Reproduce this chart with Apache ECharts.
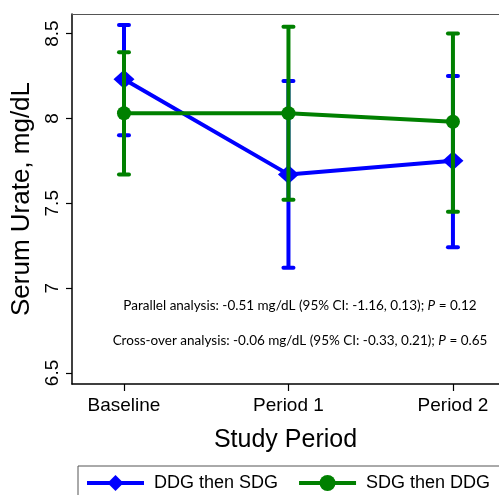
<!DOCTYPE html>
<html>
<head>
<meta charset="utf-8">
<script src="https://cdn.jsdelivr.net/npm/echarts@6/dist/echarts.min.js"></script>
<style>html,body{margin:0;padding:0;background:#fff}#c{width:499px;height:495px}</style>
</head>
<body>
<div id="c"></div>
<script>
var categories = ['Baseline', 'Period 1', 'Period 2'];
var yTicks = [6.5, 7, 7.5, 8, 8.5];
var ddgMean = [8.23, 7.67, 7.75];
var ddgLower = [7.90, 7.12, 7.24];
var ddgUpper = [8.55, 8.22, 8.25];
var sdgMean = [8.03, 8.03, 7.98];
var sdgLower = [7.67, 7.52, 7.45];
var sdgUpper = [8.39, 8.54, 8.50];
var seriesNames = ['DDG then SDG', 'SDG then DDG'];
var notes = [
  ['Parallel analysis: -0.51 mg/dL (95% CI: -1.16, 0.13); ', 'P', ' = 0.12'],
  ['Cross-over analysis: -0.06 mg/dL (95% CI: -0.33, 0.21); ', 'P', ' = 0.65']
];

var BLUE = '#0000ff', GREEN = '#008000';
var FONT = '"Liberation Sans", Arial, sans-serif';
var NFONT = 'Lato, "Open Sans", sans-serif';

function errData(lo, hi) {
  return lo.map(function (v, i) { return [i, v, hi[i]]; });
}
function errSeries(lo, hi, color, z) {
  return {
    type: 'custom', z: z, silent: true,
    data: errData(lo, hi),
    renderItem: function (params, api) {
      var x = api.value(0);
      var p1 = api.coord([x, api.value(1)]);
      var p2 = api.coord([x, api.value(2)]);
      var hw = 5;
      var st = { stroke: color, lineWidth: 4, lineCap: 'round' };
      return {
        type: 'group',
        children: [
          { type: 'line', shape: { x1: p1[0], y1: p1[1], x2: p2[0], y2: p2[1] }, style: { stroke: color, lineWidth: 4 } },
          { type: 'line', shape: { x1: p1[0] - hw, y1: p1[1], x2: p1[0] + hw, y2: p1[1] }, style: st },
          { type: 'line', shape: { x1: p2[0] - hw, y1: p2[1], x2: p2[0] + hw, y2: p2[1] }, style: st }
        ]
      };
    }
  };
}
function pts(arr) { return arr.map(function (v, i) { return [i, v]; }); }

var chart = echarts.init(document.getElementById('c'));
chart.setOption({
  animation: false,
  backgroundColor: '#fff',
  textStyle: { fontFamily: FONT },
  grid: { left: 72, top: 14, right: 0, bottom: 111, containLabel: false },
  xAxis: [{
    type: 'value', min: -0.316, max: 2.28,
    name: 'Study Period', nameLocation: 'middle', nameGap: 44,
    nameTextStyle: { fontSize: 25, color: '#000', fontFamily: FONT },
    axisLine: { show: true, onZero: false, lineStyle: { color: '#000', width: 1.5 } },
    axisTick: { show: true, length: 7, customValues: [0, 1, 2], lineStyle: { color: '#000', width: 1.2 } },
    axisLabel: { customValues: [0, 1, 2], fontSize: 19, color: '#000', margin: 12, fontFamily: FONT,
      formatter: function (v) { return categories[Math.round(v)]; } },
    splitLine: { show: false }
  }, {
    type: 'value', position: 'top', min: -0.316, max: 2.28,
    axisLine: { show: true, onZero: false, lineStyle: { color: '#555', width: 1.2 } },
    axisTick: { show: false }, axisLabel: { show: false }, splitLine: { show: false }
  }],
  yAxis: {
    type: 'value', min: 6.435, max: 8.615,
    name: 'Serum Urate, mg/dL', nameLocation: 'middle', nameGap: 30, nameRotate: 90,
    nameTextStyle: { fontSize: 26, color: '#000', fontFamily: FONT },
    axisLine: { show: true, onZero: false, lineStyle: { color: '#000', width: 1.5 } },
    axisTick: { show: true, length: 6, customValues: yTicks, lineStyle: { color: '#000', width: 1.2 } },
    axisLabel: { customValues: yTicks, rotate: 90, fontSize: 19, color: '#000', margin: 10, fontFamily: FONT,
      formatter: function (v) { return String(v); } },
    splitLine: { show: false }
  },
  legend: {
    left: 78, top: 466, width: 470,
    padding: [8, 40, 30, 7],
    borderColor: '#555', borderWidth: 1,
    itemWidth: 57, itemHeight: 20, itemGap: 19,
    lineStyle: { width: 4 },
    textStyle: { fontSize: 18, color: '#000', fontFamily: FONT, padding: [0, 0, 0, 5] },
    data: seriesNames
  },
  graphic: notes.map(function (n, i) {
    return {
      type: 'text', x: 300, y: [306, 341][i], z: 10,
      style: {
        text: '{a|' + n[0] + '}{i|' + n[1] + '}{a|' + n[2] + '}',
        align: 'center', verticalAlign: 'middle',
        rich: {
          a: { fontFamily: NFONT, fontSize: 13.5, fill: '#000' },
          i: { fontFamily: NFONT, fontSize: 13.5, fontStyle: 'italic', fill: '#000' }
        }
      }
    };
  }),
  series: [
    errSeries(ddgLower, ddgUpper, BLUE, 2),
    {
      name: seriesNames[0], type: 'line', z: 3, data: pts(ddgMean),
      symbol: 'diamond', symbolSize: [21, 19],
      lineStyle: { color: BLUE, width: 4 }, itemStyle: { color: BLUE }
    },
    errSeries(sdgLower, sdgUpper, GREEN, 4),
    {
      name: seriesNames[1], type: 'line', z: 5, data: pts(sdgMean),
      symbol: 'circle', symbolSize: 14,
      lineStyle: { color: GREEN, width: 4 }, itemStyle: { color: GREEN }
    }
  ]
});
</script>
</body>
</html>
